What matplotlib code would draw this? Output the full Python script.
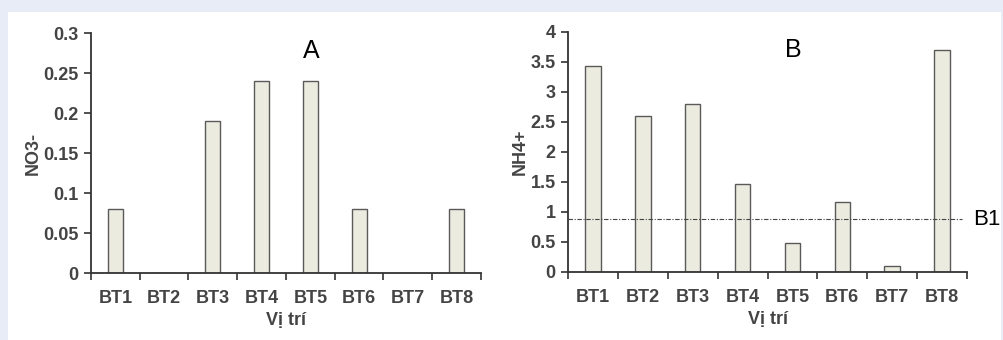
import numpy as np
import matplotlib.pyplot as plt
from matplotlib.patches import Rectangle

# du lieu doc tu hinh
vi_tri = ['BT1', 'BT2', 'BT3', 'BT4', 'BT5', 'BT6', 'BT7', 'BT8']
no3 = [0.08, 0, 0.19, 0.24, 0.24, 0.08, 0, 0.08]
nh4 = [3.43, 2.6, 2.8, 1.47, 0.49, 1.16, 0.1, 3.7]
nguong_b1 = 0.88

plt.rcParams['font.family'] = ['Liberation Sans', 'DejaVu Sans']
txt = '#444444'
fill = '#ECEBE0'
fs = 13

fig = plt.figure(figsize=(10.04, 3.4), dpi=100, facecolor='#E7ECF6')
fig.patches.append(Rectangle((8 / 1004, 0), 993 / 1004, 1 - 12 / 340,
                             transform=fig.transFigure, facecolor='white',
                             edgecolor='none', zorder=-5))

axA = fig.add_axes([91 / 1004, 1 - 273 / 340, 390 / 1004, 240 / 340])
axB = fig.add_axes([568 / 1004, 1 - 272 / 340, 399 / 1004, 240 / 340])

x = np.arange(len(vi_tri))


def ve(ax, vals, ylim, yticks, ytl, ylabel, title):
    ax.set_facecolor('none')
    ax.bar(x, vals, width=0.31, color=fill, edgecolor='#5a5a5a', linewidth=1)
    ax.set_xlim(-0.5, len(vi_tri) - 0.5)
    ax.set_ylim(*ylim)
    ax.set_yticks(yticks)
    ax.set_yticklabels(ytl, fontsize=fs, fontweight='bold', color=txt)
    ax.set_xticks(x)
    ax.set_xticklabels(vi_tri, fontsize=fs, fontweight='bold', color=txt)
    ax.set_xticks(np.arange(len(vi_tri) + 1) - 0.5, minor=True)
    ax.tick_params(axis='x', which='major', length=0, pad=12)
    ax.tick_params(axis='x', which='minor', length=5, width=1.2, color='#333333')
    ax.tick_params(axis='y', length=5, width=1.2, color='#333333', pad=4)
    for s in ['top', 'right']:
        ax.spines[s].set_visible(False)
    for s in ['left', 'bottom']:
        ax.spines[s].set_linewidth(1.3)
        ax.spines[s].set_color('#333333')
    ax.set_xlabel('Vị trí', fontsize=fs, fontweight='bold', color=txt, labelpad=4)
    ax.set_ylabel(ylabel, fontsize=fs, fontweight='bold', color=txt, labelpad=1)
    ax.text(0.565, 0.975, title, transform=ax.transAxes, ha='center', va='top',
            fontsize=18, color='black')


ve(axA, no3, (0, 0.3), [0, 0.05, 0.1, 0.15, 0.2, 0.25, 0.3],
   ['0', '0.05', '0.1', '0.15', '0.2', '0.25', '0.3'], 'NO3-', 'A')
ve(axB, nh4, (0, 4), [0, 0.5, 1, 1.5, 2, 2.5, 3, 3.5, 4],
   ['0', '0.5', '1', '1.5', '2', '2.5', '3', '3.5', '4'], 'NH4+', 'B')

axB.plot([-0.5, 7.4], [nguong_b1, nguong_b1], color='#444444', lw=0.8,
         ls=(0, (4, 1.5, 1, 1.5)), zorder=3)
axB.text(7.62, nguong_b1, 'B1', ha='left', va='center', fontsize=16,
         color='black', clip_on=False)

fig.savefig('out.png', dpi=100, facecolor=fig.get_facecolor())
